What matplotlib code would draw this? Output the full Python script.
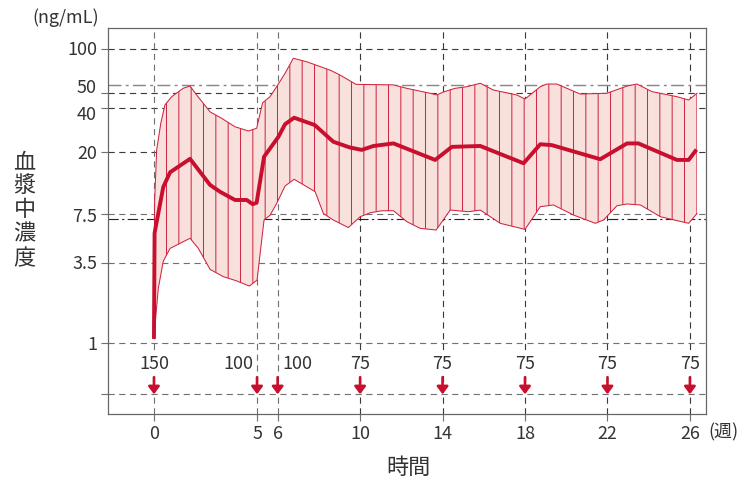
import numpy as np
import matplotlib
matplotlib.use("Agg")
import matplotlib.pyplot as plt

plt.rcParams["font.family"] = ["Noto Sans CJK JP", "DejaVu Sans"]
plt.rcParams["hatch.linewidth"] = 1.0
plt.rcParams["hatch.color"] = "#cf2a45"

# ---- data -------------------------------------------------------------
# mean plasma concentration (ng/mL) vs. week
mean_week = [0, 0.03, 0.45, 0.78, 1.75, 2.72, 3.2, 3.93, 4.5, 4.79, 4.98,
             5.34, 6.04, 6.36, 6.8, 7.8, 8.7, 9.5, 10.08, 10.65, 11.62,
             13.64, 14.45, 15.83, 17.93, 18.74, 19.3, 21.65, 22.95, 23.5,
             25.37, 25.94, 26.26]
mean_conc = [1.1, 5.6, 11.5, 14.5, 17.9, 11.9, 10.7, 9.4, 9.4, 8.8, 9.0,
             18.5, 25.3, 30.8, 34.1, 30.4, 23.4, 21.4, 20.6, 21.9, 22.8,
             17.6, 21.6, 21.9, 16.7, 22.5, 22.2, 17.8, 22.8, 22.8,
             17.6, 17.6, 20.2]

# upper bound of the range
upper_week = [0, 0.03, 0.13, 0.33, 0.53, 0.86, 1.42, 1.75, 2.07, 2.72, 3.28,
              3.93, 4.58, 4.98, 5.27, 5.63, 5.95, 6.36, 6.76, 7.4, 8.54,
              9.03, 9.8, 11.62, 12.27, 13.4, 13.72, 14.04, 14.6, 15.17,
              15.83, 16.47, 17.6, 18.0, 18.74, 19.06, 19.54, 20.68, 21.97,
              22.95, 23.43, 24.16, 25.37, 25.94, 26.34]
upper_conc = [1.1, 9.0, 20.6, 31.2, 41.6, 47.4, 54.1, 56.0, 48.7, 37.4, 33.8,
              29.6, 27.7, 28.9, 43.1, 47.4, 55.4, 68.4, 86.5, 82.0, 71.9,
              66.5, 57.5, 57.0, 54.0, 50.0, 48.7, 51.0, 54.0, 55.4,
              58.5, 52.6, 48.7, 45.7, 55.4, 57.8, 57.8, 49.4, 50.0,
              56.0, 57.8, 51.3, 47.4, 45.0, 50.0]

# lower bound of the range
lower_week = [0, 0.21, 0.45, 0.78, 1.42, 1.75, 2.15, 2.72, 3.36, 4.0, 4.63,
              5.0, 5.34, 5.63, 5.95, 6.36, 6.8, 7.82, 8.22, 8.7, 9.43, 10.0,
              10.5, 11.06, 11.62, 12.27, 12.91, 13.69, 14.37, 15.26, 15.83,
              16.8, 18.0, 18.74, 19.38, 20.35, 21.41, 21.81, 22.46, 22.95,
              23.6, 24.57, 25.94, 26.34]
lower_conc = [1.1, 2.35, 3.6, 4.4, 4.89, 5.16, 4.41, 3.17, 2.83, 2.65, 2.44,
              2.68, 6.87, 7.4, 8.9, 11.7, 13.0, 10.7, 7.6, 6.87, 6.1, 7.23,
              7.7, 7.94, 7.94, 6.69, 6.03, 5.87, 8.03, 7.82, 8.03,
              6.52, 5.93, 8.46, 8.69, 7.43, 6.52, 6.87, 8.59, 8.83,
              8.69, 7.23, 6.52, 7.6]

# dosing schedule
dose_week = [0, 5, 6, 10, 14, 18, 22, 26]
dose_amount = [150, 100, 100, 75, 75, 75, 75, 75]

x_ticks = [0, 5, 6, 10, 14, 18, 22, 26]
y_ticks = [1, 3.5, 7.5, 20, 40, 50, 100]
y_tick_labels = ["1", "3.5", "7.5", "20", "40", "50", "100"]
ref_high = 57.0   # dash-dot reference levels
ref_low = 7.0

# ---- layout -----------------------------------------------------------
W, H, DPI = 741, 481, 74
RED = "#c8102e"
THIN_RED = "#d0223f"
FILL = "#f8e1dc"
TXT = "#333333"
DARK = "#3a3a3a"
GRAY = "#707070"
FS = 17.5

fig = plt.figure(figsize=(W / DPI, H / DPI), dpi=DPI)
ax = fig.add_axes([108 / W, 1 - 414 / H, (706 - 108) / W, (414 - 28) / H])
ax.set_yscale("log")
ax.set_xlim(-2.23, 26.78)
ax.set_ylim(0.329, 139)

arrow_base = 0.448   # level of the dosing baseline
arrow_top = 0.585
dose_label_y = 0.725

dash = (0, (5.5, 4))
# horizontal grid
for lv in y_ticks + [arrow_base]:
    c = DARK if lv >= 20 else GRAY
    ax.axhline(lv, color=c, lw=1.1, ls=dash, zorder=1)
# vertical grid
for xv in x_ticks:
    ax.axvline(xv, color=GRAY if xv <= 6 else DARK, lw=1.1, ls=dash, zorder=1)
# reference levels
ax.axhline(ref_high, color="#888888", lw=1.4, ls=(0, (9, 3, 2, 3)), zorder=1)
ax.axhline(ref_low, color="#222222", lw=1.1, ls=(0, (9, 3, 2, 3)), zorder=1)

# range band
poly_x = list(upper_week) + list(lower_week[::-1])
poly_y = list(upper_conc) + list(lower_conc[::-1])
ax.fill(poly_x, poly_y, facecolor=FILL, edgecolor="none", lw=0, zorder=2)
ax.fill(poly_x, poly_y, facecolor="none", edgecolor="#cf2a45", hatch="|",
        lw=0, zorder=2.5)
ax.plot(upper_week, upper_conc, color=THIN_RED, lw=1.0, zorder=3)
ax.plot(lower_week, lower_conc, color=THIN_RED, lw=1.0, zorder=3)

# mean
ax.plot(mean_week, mean_conc, color=RED, lw=3.8, zorder=4)

# doses
label_shift = {5: -19, 6: 20}
for w, d in zip(dose_week, dose_amount):
    ax.annotate("", xy=(w, arrow_base), xytext=(w, arrow_top),
                arrowprops=dict(arrowstyle="-|>,head_width=0.45,head_length=0.6",
                                color=RED, lw=2.6, shrinkA=0, shrinkB=0,
                                mutation_scale=10),
                zorder=5)
    ax.annotate(str(d), xy=(w, dose_label_y),
                xytext=(label_shift.get(w, 0), 0), textcoords="offset pixels",
                ha="center", va="center", fontsize=FS, color=TXT, zorder=5,
                bbox=dict(fc="white", ec="none", pad=1.5))

# ticks; y labels are written individually so crowded ones can be nudged
nudge = {100: -1, 50: 5, 40: -7, 20: -2, 7.5: -3, 3.5: -1, 1: -2}
ax.set_xticks(x_ticks)
ax.set_xticklabels([str(t) for t in x_ticks])
ax.set_yticks(y_ticks + [arrow_base])
ax.set_yticklabels([""] * (len(y_ticks) + 1))
ax.yaxis.set_minor_locator(matplotlib.ticker.NullLocator())
ax.tick_params(axis="both", direction="out", length=7, width=1.1,
               color=GRAY, labelsize=FS, labelcolor=TXT, pad=4)
for v, s in zip(y_ticks, y_tick_labels):
    ax.annotate(s, xy=(0, v), xycoords=("axes fraction", "data"),
                xytext=(-11, nudge.get(v, 0)), textcoords="offset pixels",
                ha="right", va="center", fontsize=FS, color=TXT,
                annotation_clip=False)

for s in ax.spines.values():
    s.set_color("#666666")
    s.set_linewidth(1.2)

# axis titles
def ftxt(x, y, s, **kw):
    fig.text(x / W, 1 - y / H, s, ha="center", va="center", color=TXT, **kw)

ftxt(66, 18, "(ng/mL)", fontsize=FS)
ftxt(723, 432, "(週)", fontsize=FS)
ftxt(408, 468, "時間", fontsize=21.5)
for i, ch in enumerate("血漿中濃度"):
    ftxt(24.5, 162 + 24.2 * i, ch, fontsize=21.5)

fig.savefig("out.png", dpi=DPI)
